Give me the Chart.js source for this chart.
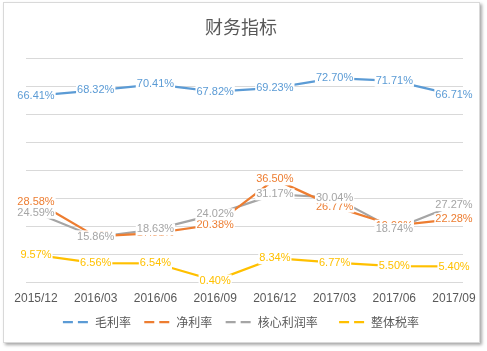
<!DOCTYPE html>
<html>
<head>
<meta charset="utf-8">
<script src="https://cdn.jsdelivr.net/npm/chart.js@4"></script>
<style>
  body { margin: 0; background: #fff; }
  #frame { position: absolute; left: 3px; top: 2px; width: 475px; height: 339px;
           border: 1px solid #d9d9d9; box-shadow: 2px 2px 3px rgba(0,0,0,0.35); background: #fff; }
  #wrap { position: absolute; left: 0; top: 0; width: 487px; height: 351px; }
</style>
</head>
<body>
<div id="frame"></div>
<div id="wrap"><canvas id="c" width="487" height="351"></canvas></div>
<script>
const periods = ["2015/12", "2016/03", "2016/06", "2016/09", "2016/12", "2017/03", "2017/06", "2017/09"];
const grossMargin = [66.41, 68.32, 70.41, 67.82, 69.23, 72.70, 71.71, 66.71];
const netMargin   = [28.58, 16.16, 17.31, 20.38, 36.50, 26.77, 19.96, 22.28];
const coreMargin  = [24.59, 15.86, 18.63, 24.02, 31.17, 30.04, 18.74, 27.27];
const taxRate     = [9.57, 6.56, 6.54, 0.40, 8.34, 6.77, 5.50, 5.40];

const names  = ["毛利率", "净利率", "核心利润率", "整体税率"];
const colors = ["#5B9BD5", "#ED7D31", "#A5A5A5", "#FFC000"];
const series = [grossMargin, netMargin, coreMargin, taxRate];

// excel draws the horizontal grid a bit wider than the first/last category
const wideGrid = {
  id: "wideGrid",
  beforeDatasetsDraw(chart) {
    const ctx = chart.ctx, y = chart.scales.y, a = chart.chartArea;
    ctx.save();
    ctx.strokeStyle = "#d9d9d9";
    ctx.lineWidth = 1;
    y.ticks.forEach(t => {
      const py = Math.round(y.getPixelForValue(t.value)) + 0.5;
      ctx.beginPath();
      ctx.moveTo(a.left - 10, py);
      ctx.lineTo(a.right + 9, py);
      ctx.stroke();
    });
    ctx.restore();
  }
};

// labels on every point, white box behind like the excel chart
const pointLabels = {
  id: "pointLabels",
  afterDatasetsDraw(chart) {
    const ctx = chart.ctx;
    ctx.save();
    ctx.font = "11px 'Liberation Sans', Arial, sans-serif";
    ctx.textAlign = "center";
    ctx.textBaseline = "middle";
    chart.data.datasets.forEach((ds, i) => {
      chart.getDatasetMeta(i).data.forEach((pt, j) => {
        const txt = ds.data[j].toFixed(2) + "%";
        const w = ctx.measureText(txt).width;
        ctx.fillStyle = "#fff";
        ctx.fillRect(pt.x - w / 2 - 1, pt.y - 6, w + 2, 12);
        ctx.fillStyle = ds.borderColor;
        ctx.fillText(txt, pt.x, pt.y);
      });
    });
    ctx.restore();
  }
};

new Chart(document.getElementById("c"), {
  type: "line",
  data: {
    labels: periods,
    datasets: series.map((d, i) => ({
      label: names[i],
      data: d,
      borderColor: colors[i],
      backgroundColor: colors[i],
      borderWidth: 2.25,
      pointRadius: 0,
      tension: 0,
      fill: false
    }))
  },
  options: {
    responsive: false,
    animation: false,
    layout: { padding: { left: 28, right: 33, top: 0, bottom: 13 } },
    plugins: {
      title: {
        display: true,
        text: "财务指标",
        color: "#595959",
        font: { family: "'Noto Sans CJK SC'", size: 18, weight: "normal" },
        padding: { top: 16, bottom: 20 }
      },
      legend: {
        position: "bottom",
        labels: {
          color: "#595959",
          font: { family: "'Noto Sans CJK SC'", size: 12 },
          usePointStyle: true,
          pointStyleWidth: 26,
          padding: 8,
          generateLabels(chart) {
            return chart.data.datasets.map((ds, i) => ({
              text: ds.label + (i === 2 ? "     " : i === 3 ? "" : "  "),
              fillStyle: ds.borderColor,
              strokeStyle: ds.borderColor,
              fontColor: "#595959",
              lineWidth: 2.25,
              lineDash: [10, 5],
              pointStyle: "line",
              datasetIndex: i
            }));
          }
        }
      },
      tooltip: { enabled: false }
    },
    scales: {
      x: {
        offset: false,
        grid: { display: false },
        border: { display: false },
        ticks: {
          color: "#595959",
          font: { family: "'Liberation Sans'", size: 12 },
          maxRotation: 0,
          autoSkip: false,
          padding: 2
        }
      },
      y: {
        min: 0,
        max: 80,
        ticks: { display: false, stepSize: 10 },
        grid: { display: false },
        border: { display: false }
      }
    }
  },
  plugins: [wideGrid, pointLabels]
});
</script>
</body>
</html>
